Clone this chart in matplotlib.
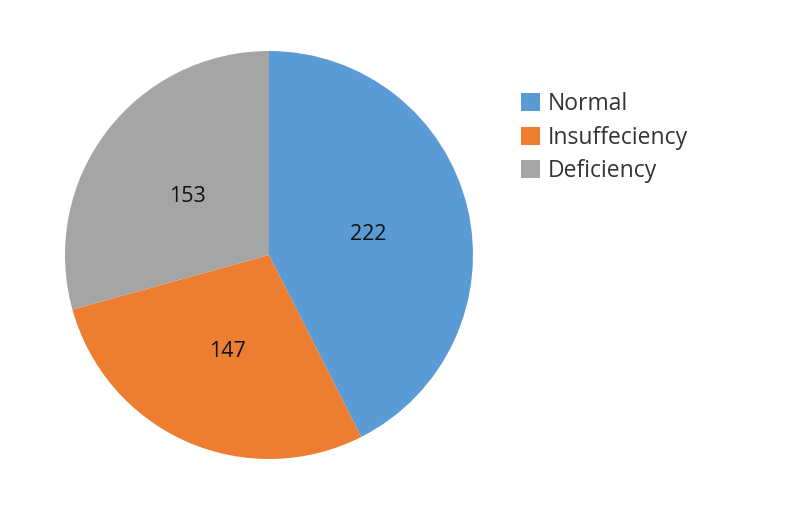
import matplotlib.pyplot as plt
from matplotlib.patches import Patch

categories = ["Normal", "Insuffeciency", "Deficiency"]
values = [222, 147, 153]
colors = ["#5B9BD5", "#ED7D31", "#A5A5A5"]

plt.rcParams['font.family'] = ['Open Sans', 'DejaVu Sans']
fig = plt.figure(figsize=(8, 5.09), dpi=100)
ax = fig.add_axes([(269 - 204) / 800, (509 - 459) / 509, 408 / 800, 408 / 509])
wedges, texts = ax.pie(values, colors=colors, startangle=90, counterclock=False,
                       labels=[str(v) for v in values], labeldistance=0.5,
                       wedgeprops=dict(edgecolor='none', linewidth=0),
                       textprops=dict(fontsize=15.5, color='#111111', ha='center', va='center'))
for t in texts:
    x, y = t.get_position()
    t.set_position((x, y - 0.015))
ax.set_xlim(-1, 1)
ax.set_ylim(-1, 1)
ax.set_aspect('equal')

handles = [Patch(facecolor=c, edgecolor='none') for c in colors]
leg = fig.legend(handles, categories, loc='upper left', bbox_to_anchor=(521 / 800, 1 - 92 / 509),
                 frameon=False, fontsize=16.5, handlelength=0.85, handleheight=0.85,
                 handletextpad=0.3, labelspacing=0.42, borderaxespad=0, borderpad=0)
for t in leg.get_texts():
    t.set_color('#333333')
fig.savefig("out.png", dpi=100, facecolor='white')
